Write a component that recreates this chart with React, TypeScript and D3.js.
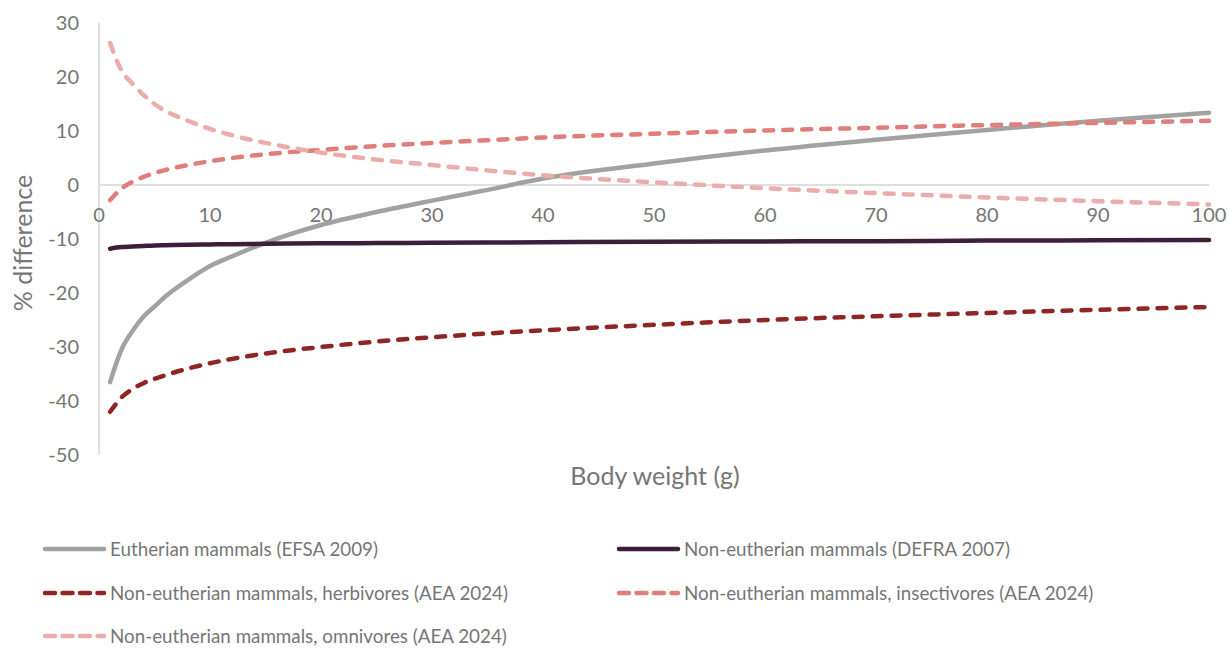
import React from "react";
import * as d3 from "d3";

const bodyWeight = [1, 2, 3, 4, 5, 6, 8, 10, 12, 15, 20, 25, 30, 35, 40, 50, 60, 70, 80, 90, 100];
const eutherianEFSA = [-36.5, -30.6, -27.1, -24.4, -22.5, -20.6, -17.6, -15.0, -13.2, -10.7, -7.4, -5.0, -2.9, -0.9, 1.2, 4.0, 6.4, 8.4, 10.2, 11.9, 13.4];
const nonEutherianDEFRA = [-11.8, -11.5, -11.4, -11.3, -11.2, -11.15, -11.05, -11.0, -10.95, -10.9, -10.8, -10.75, -10.7, -10.65, -10.6, -10.5, -10.45, -10.4, -10.3, -10.25, -10.2];
const herbivoresAEA = [-42, -39.4, -37.8, -36.7, -35.9, -35.2, -34.0, -33.0, -32.2, -31.2, -30.0, -29.0, -28.2, -27.5, -26.9, -25.9, -25.0, -24.3, -23.7, -23.1, -22.6];
const insectivoresAEA = [-2.8, -0.7, 0.6, 1.5, 2.2, 2.8, 3.7, 4.4, 5.0, 5.7, 6.5, 7.2, 7.8, 8.3, 8.8, 9.5, 10.1, 10.6, 11.1, 11.5, 11.9];
const omnivoresAEA = [26.3, 21.3, 18.8, 16.7, 15.0, 13.7, 11.9, 10.4, 9.2, 7.8, 6.0, 4.7, 3.7, 2.7, 1.8, 0.5, -0.6, -1.5, -2.3, -3.0, -3.6];

const xTicks = [0, 10, 20, 30, 40, 50, 60, 70, 80, 90, 100];
const yTicks = [30, 20, 10, 0, -10, -20, -30, -40, -50];

const seriesNames = [
  "Eutherian mammals (EFSA 2009)",
  "Non-eutherian mammals (DEFRA 2007)",
  "Non-eutherian mammals, herbivores (AEA 2024)",
  "Non-eutherian mammals, insectivores (AEA 2024)",
  "Non-eutherian mammals, omnivores (AEA 2024)",
];
const seriesValues = [eutherianEFSA, nonEutherianDEFRA, herbivoresAEA, insectivoresAEA, omnivoresAEA];
const seriesColors = ["#a2a2a0", "#3e1e3b", "#8e2626", "#df7e7b", "#ebadaa"];
const seriesDashed = [false, false, true, true, true];

const FONT = "Lato, 'Open Sans', sans-serif";
const TEXT = "#767676";

export default function App() {
  const W = 1228, H = 652;
  const x = d3.scaleLinear().domain([0, 100]).range([99, 1209]);
  const y = d3.scaleLinear().domain([-50, 30]).range([455, 23]);
  const line = d3.line<number>()
    .x((_, i) => x(bodyWeight[i]))
    .y((d) => y(d))
    .curve(d3.curveMonotoneX);

  const legendPos = [
    { lx: 45, ly: 549 },
    { lx: 619, ly: 549 },
    { lx: 45, ly: 593 },
    { lx: 619, ly: 593 },
    { lx: 45, ly: 636 },
  ];

  return (
    <svg width={W} height={H} style={{ position: "absolute", left: 0, top: 0, background: "#fff" }}>
      <line x1={x(0)} x2={x(0)} y1={y(30)} y2={y(-50)} stroke="#d4d4d4" strokeWidth={1.5} />
      <line x1={x(0)} x2={x(100)} y1={y(0)} y2={y(0)} stroke="#d4d4d4" strokeWidth={1.5} />
      {yTicks.map((t) => (
        <text key={t} x={79} y={y(t)} dy="0.35em" textAnchor="end" fontFamily={FONT} fontSize={20} fill={TEXT}>
          {t}
        </text>
      ))}
      {xTicks.map((t) => (
        <text key={t} x={x(t)} y={y(0) + 30} dy="0.35em" textAnchor="middle" fontFamily={FONT} fontSize={20} fill={TEXT}>
          {t}
        </text>
      ))}
      <text
        transform={`translate(23, 243) rotate(-90)`}
        textAnchor="middle"
        dy="0.35em"
        fontFamily={FONT}
        fontSize={25}
        fill={TEXT}
      >
        % difference
      </text>
      <text x={655} y={476} dy="0.35em" textAnchor="middle" fontFamily={FONT} fontSize={25} fill={TEXT}>
        Body weight (g)
      </text>

      {seriesValues.map((vals, i) => (
        <path
          key={i}
          d={line(vals) || ""}
          fill="none"
          stroke={seriesColors[i]}
          strokeWidth={4.5}
          strokeLinecap="round"
          strokeDasharray={seriesDashed[i] ? "9 10" : undefined}
        />
      ))}

      {seriesNames.map((name, i) => (
        <g key={name}>
          <line
            x1={legendPos[i].lx}
            x2={legendPos[i].lx + 59}
            y1={legendPos[i].ly}
            y2={legendPos[i].ly}
            stroke={seriesColors[i]}
            strokeWidth={4.5}
            strokeLinecap="round"
            strokeDasharray={seriesDashed[i] ? "10 7.5" : undefined}
          />
          <text x={legendPos[i].lx + 65} y={legendPos[i].ly} dy="0.35em" fontFamily={FONT} fontSize={18.8} fill={TEXT}>
            {name}
          </text>
        </g>
      ))}
    </svg>
  );
}
